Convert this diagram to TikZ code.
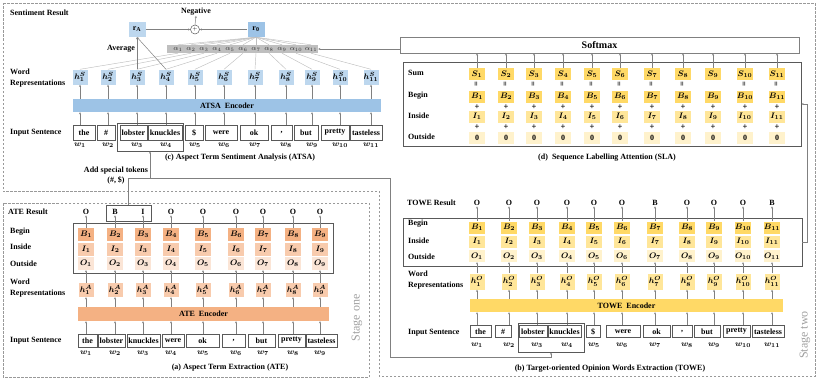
\documentclass[tikz,border=0pt]{standalone}
\usepackage{fontspec}
\setmainfont{Liberation Serif}
\usepackage{bm}
\usetikzlibrary{arrows.meta}
\definecolor{bluel}{HTML}{BDD7EE}
\definecolor{blued}{HTML}{9DC3E6}
\definecolor{orB}{HTML}{F4B183}
\definecolor{orI}{HTML}{F8CBAD}
\definecolor{orO}{HTML}{FBE5D6}
\definecolor{yB}{HTML}{FFD966}
\definecolor{yI}{HTML}{FFE699}
\definecolor{yO}{HTML}{FFF2CC}
\definecolor{lnc}{HTML}{808080}
\definecolor{bxc}{HTML}{595959}
\newcommand{\fs}[1]{\fontsize{#1}{#1}\selectfont}
\newcommand{\cm}{,}
\begin{document}
\begin{tikzpicture}[x=1pt,y=-1pt,
  lbl/.style={font=\bfseries\fontsize{8}{11}\selectfont, anchor=west, inner sep=0pt, align=left},
  capt/.style={font=\bfseries\fs{8}, inner sep=0pt},
  res/.style={font=\bfseries\fs{8}, inner sep=0.5pt},
  wbox/.style={draw=bxc, line width=0.8pt, font=\bfseries\fs{8}, inner sep=0pt, minimum height=#1},
  cell/.style={fill=#1, minimum width=16pt, minimum height=13pt, inner sep=0pt, font=\fs{8}},
  hcell/.style={fill=#1, minimum width=15pt, minimum height=15pt, inner sep=0pt, font=\fs{8}},
  enc/.style={fill=#1, inner sep=0pt, font=\bfseries\fs{8}},
  tbl/.style={draw=bxc, line width=0.8pt, inner sep=0pt},
  ln/.style={draw=gray!50, line width=0.45pt},
  arr/.style={draw=lnc, line width=0.5pt, -{Stealth[length=2.2pt,width=2pt]}},
  stagebox/.style={draw=gray!80, line width=0.6pt, dash pattern=on 2.5pt off 1.5pt},
  wl/.style={font=\fs{8}, inner sep=0pt},
  stg/.style={rotate=90, font=\fs{12}, text=gray!75, inner sep=0pt},
  sym/.style={font=\bfseries\fs{8.5}, inner sep=0pt}
]
\useasboundingbox (0,0) rectangle (822,383);

% ===== stage boxes =====
\draw[stagebox] (3,3) -- (815,3) -- (815,376) -- (379,376) -- (379,191) -- (3,191) -- cycle;
\draw[stagebox] (3,203) rectangle (369,377);
\node[stg] (stone) at (357,318) {Stage one};
\node[stg] (sttwo) at (805,335) {Stage two};

% ===== ATSA =====
\node[lbl] (sentres) at (10,13) {Sentiment Result};
\node[capt] (neg) at (196,12) {Negative};
\node[hcell=bluel, minimum width=17pt, minimum height=15pt] (rA) at (137,29.5) {$\mathbf{r}_{\mathbf{A}}$};
\node[hcell=blued, minimum width=17pt, minimum height=15pt] (r0) at (256,29.5) {$\mathbf{r}_{\mathbf{0}}$};
\node[circle, draw=bxc, line width=0.5pt, minimum size=9pt, inner sep=0pt, font=\fs{5}] (opl) at (195,29.5) {$+$};
\draw[arr] (rA.east) -- (opl.west);
\draw[arr] (r0.west) -- (opl.east);
\draw[arr] (opl.north) -- (neg.south);

\node[fill=gray!50, minimum width=151pt, minimum height=8pt, inner sep=0pt] (abar) at (242.5,49) {};
\foreach \i/\x in {1/178,2/191,3/204,4/217,5/230,6/243,7/256,8/269,9/282,10/296,11/311}
  \node[font=\fs{7}, text=black!80, inner sep=0pt] (a\i) at (\x,49) {$\alpha_{\i}$};

\node[lbl] (wrS) at (10,78.5) {Word\\Representations};
\node[enc=blued, minimum width=308pt, minimum height=13pt] (encS) at (227,105.5) {ATSA\ \ Encoder};
\foreach \i/\x in {1/80,2/108,3/137,4/166,5/195,6/224,7/255,8/286,9/312,10/340,11/371}{
  \node[hcell=bluel] (hs\i) at (\x,77) {$\bm{h^{S}_{\i}}$};
  \node[wl] (wls\i) at (\x,145.5) {$\bm{w_{\i}}$};
}
\foreach \i in {1,...,11}{
  \draw[ln] (r0.south) -- (a\i |- abar.north);
  \draw[ln] (a\i |- abar.south) -- (hs\i.north);
  \draw[arr] (hs\i |- encS.north) -- (hs\i.south);
}
\node[capt] (avg) at (121,49) {Average};
\draw[arr] (hs3.north) -- (rA.south);
\draw[arr] (hs4.north) -- (rA.south);

\node[lbl] (inS) at (10,133) {Input Sentence};
\foreach \i/\xa/\xb/\wt in {1/73/95/the,2/97/115/\#,3/120/147/lobster,4/148/182/knuckles,5/185/203/\$,6/205/237/were,7/240/268/ok,8/271/292/\cm,9/294/318/but,10/321/349/pretty,11/350/382/tasteless}{
  \pgfmathsetmacro{\ww}{\xb-\xa}
  \pgfmathsetmacro{\xc}{(\xa+\xb)/2}
  \node[wbox=15pt, minimum width=\ww pt] (ws\i) at (\xc,132.5) {\wt};
  \draw[arr] (hs\i |- ws\i.north) -- (hs\i |- encS.south);
}
\node[draw=bxc, line width=0.8pt, minimum width=66pt, minimum height=28pt, inner sep=0pt] (aspS) at (150,137) {};
\node[capt] (capS) at (240,157.5) {(c) Aspect Term Sentiment Analysis (ATSA)};
\node[capt, align=center, font=\bfseries\fontsize{8}{10}\selectfont] (addsp) at (116,176) {Add special tokens\\(\#, \$)};

% ===== SLA =====
\node[draw=gray, line width=0.6pt, minimum width=399pt, minimum height=16pt, inner sep=0pt, font=\bfseries\fs{10}] (smax) at (599.5,45) {Softmax};
\draw[arr] (smax.west |- abar.east) -- (abar.east);
\node[tbl, minimum width=398pt, minimum height=84pt] (slaBox) at (602,104) {};
\node[lbl] (lsum) at (408,73) {Sum};
\node[lbl] (lbeg) at (408,96) {Begin};
\node[lbl] (lins) at (408,116) {Inside};
\node[lbl] (lout) at (408,137) {Outside};
\foreach \i/\x in {1/477,2/506,3/534,4/563,5/592,6/620,7/652,8/683,9/713,10/745,11/777}{
  \node[cell=yB, minimum height=12pt] (ss\i) at (\x,74) {$\bm{S_{\i}}$};
  \node[cell=yB, minimum height=12pt] (sb\i) at (\x,96.5) {$\bm{B_{\i}}$};
  \node[sym] (pa\i) at (\x,107) {+};
  \node[cell=yI, minimum height=12pt] (si\i) at (\x,116.5) {$\bm{I_{\i}}$};
  \node[sym] (pb\i) at (\x,127) {+};
  \node[cell=yO, minimum height=12pt, font=\bfseries\fs{8}] (so\i) at (\x,137.5) {0};
  \draw[arr] (ss\i.north) -- (ss\i |- smax.south);
}
\foreach \x in {477,506,534,563,592,620,652,683,745,777}
  \node[sym, rotate=90] at (\x,84.5) {=};
\node[capt] (capD) at (607,158) {(d)\ \ Sequence Labelling Attention (SLA)};

% ===== ATE =====
\node[lbl] (ater) at (8,212) {ATE Result};
\node[tbl, minimum width=45pt, minimum height=16pt] (biBox) at (128.5,213) {};
\node[tbl, minimum width=260pt, minimum height=50pt] (ateTbl) at (203,248) {};
\node[lbl] (abeg) at (10,232) {Begin};
\node[lbl] (ains) at (10,247) {Inside};
\node[lbl] (aout) at (10,264) {Outside};
\node[lbl] (awr) at (10,288.5) {Word\\Representations};
\node[enc=orB, minimum width=251pt, minimum height=14pt] (encA) at (203.5,314) {ATE\ \ Encoder};
\foreach \i/\x/\r in {1/86/O,2/115/B,3/143/I,4/171/O,5/203/O,6/236/O,7/263/O,8/293/O,9/320/O}{
  \node[res] (ar\i) at (\x,212) {\r};
  \node[cell=orB] (ab\i) at (\x,234.5) {$\bm{B_{\i}}$};
  \node[cell=orI] (ai\i) at (\x,249) {$\bm{I_{\i}}$};
  \node[cell=orO] (ao\i) at (\x,263.5) {$\bm{O_{\i}}$};
  \node[hcell=orI, minimum height=14pt] (ha\i) at (\x,290) {$\bm{h^{A}_{\i}}$};
  \node[wl] (wla\i) at (\x,353.5) {$\bm{w_{\i}}$};
  \draw[arr] (ab\i.north) -- (ar\i.south);
  \draw[arr] (ha\i.north) -- (ao\i.south);
  \draw[arr] (ha\i |- encA.north) -- (ha\i.south);
}
\node[lbl] (inA) at (10,341) {Input Sentence};
\foreach \i/\xa/\xb/\wt in {1/78/97/the,2/98/125/lobster,3/127/160/knuckles,4/162/184/were,5/186/219/ok,6/222/245/\cm,7/248/275/but,8/278/305/pretty,9/306/337/tasteless}{
  \pgfmathsetmacro{\ww}{\xb-\xa}
  \pgfmathsetmacro{\xc}{(\xa+\xb)/2}
  \node[wbox=13pt, minimum width=\ww pt] (wa\i) at (\xc,340.5) {\wt};
  \draw[arr] (ha\i |- wa\i.north) -- (ha\i |- encA.south);
}
\node[capt] (capA) at (230,368) {(a) Aspect Term Extraction (ATE)};

% ===== TOWE =====
\node[lbl] (towr) at (407,203) {TOWE Result};
\node[tbl, minimum width=399pt, minimum height=48pt] (toweTbl) at (602.5,242) {};
\node[lbl] (tbeg) at (408,224) {Begin};
\node[lbl] (tins) at (408,241) {Inside};
\node[lbl] (tout) at (408,257) {Outside};
\node[lbl] (twr) at (408,280) {Word\\Representations};
\node[enc=yB, minimum width=313pt, minimum height=13pt] (encO) at (626.5,305.5) {TOWE\ \ Encoder};
\foreach \i/\x/\r in {1/477/O,2/509/O,3/537/O,4/567/O,5/594/O,6/622/O,7/655/B,8/687/O,9/714/O,10/743/O,11/772/B}{
  \node[res] (tr\i) at (\x,203) {\r};
  \node[cell=yB, minimum height=12pt] (tb\i) at (\x,227.5) {$\bm{B_{\i}}$};
  \node[cell=yI, minimum height=12pt] (ti\i) at (\x,241.5) {$\bm{I_{\i}}$};
  \node[cell=yO, minimum height=12pt] (to\i) at (\x,256) {$\bm{O_{\i}}$};
  \node[hcell=yI, minimum height=16pt] (ho\i) at (\x,281.5) {$\bm{h^{O}_{\i}}$};
  \node[wl] (wlo\i) at (\x,345.5) {$\bm{w_{\i}}$};
  \draw[arr] (tb\i.north) -- (tr\i.south);
  \draw[arr] (ho\i.north) -- (to\i.south);
  \draw[arr] (ho\i |- encO.north) -- (ho\i.south);
}
\node[lbl] (inO) at (408,333) {Input Sentence};
\foreach \i/\xa/\xb/\wt in {1/470/491/the,2/495/511/\#,3/519/547/lobster,4/548/581/knuckles,5/586/600/\$,6/606/640/were,7/643/670/ok,8/672/692/\cm,9/694/720/but,10/723/750/pretty,11/752/784/tasteless}{
  \pgfmathsetmacro{\ww}{\xb-\xa}
  \pgfmathsetmacro{\xc}{(\xa+\xb)/2}
  \node[wbox=12pt, minimum width=\ww pt] (wo\i) at (\xc,331.5) {\wt};
  \draw[arr] (ho\i |- wo\i.north) -- (ho\i |- encO.south);
}
\node[draw=bxc, line width=0.8pt, minimum width=66pt, minimum height=29pt, inner sep=0pt] (aspO) at (551,337.5) {};
\node[capt] (capO) at (610,369) {(b) Target-oriented Opinion Words Extraction (TOWE)};

% ===== connectors between parts =====
\coordinate (j1) at (390,178);
\coordinate (j2) at (390,357);
\draw[arr] (biBox.north) |- (j1) -- (j2) -| (aspO.south);
\draw[arr] (biBox.north |- j1) -| (aspS.south);
\coordinate (k1) at (807,242);
\coordinate (k2) at (807,104);
\draw[arr] (toweTbl.east) -- (k1) -- (k2) -- (slaBox.east |- k2);
\end{tikzpicture}
\end{document}
